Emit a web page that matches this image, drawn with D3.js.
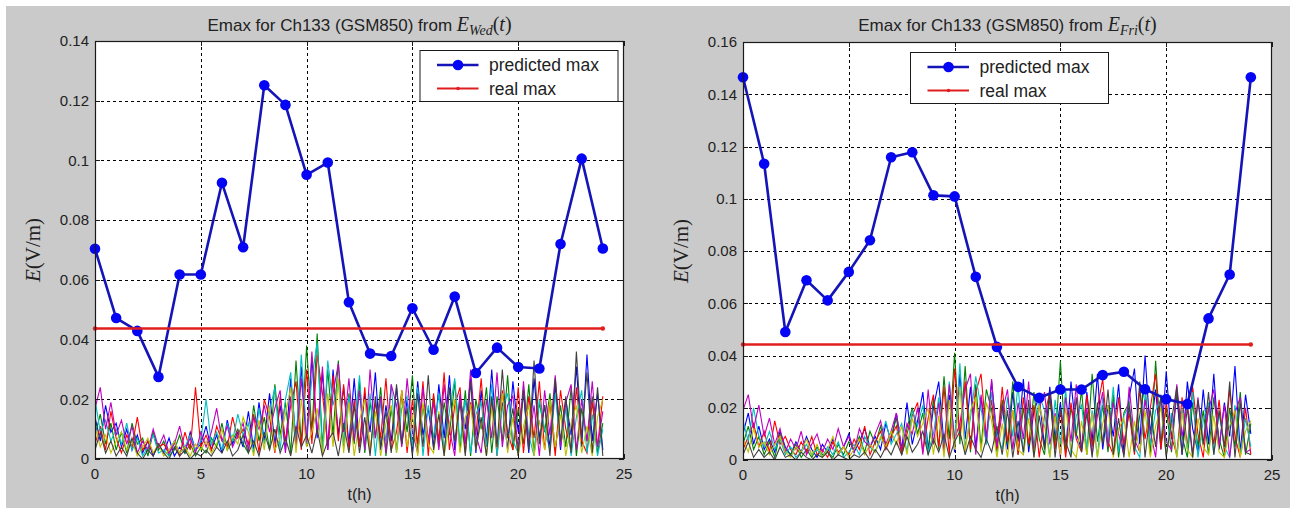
<!DOCTYPE html>
<html>
<head>
<meta charset="utf-8">
<script src="https://cdn.jsdelivr.net/npm/d3@7"></script>
<style>
  html, body { margin: 0; padding: 0; background: #ffffff; }
  svg { display: block; }
</style>
</head>
<body>
<svg id="fig" width="1290" height="508"></svg>
<script>
// ---------------------------------------------------------------
// Data
// ---------------------------------------------------------------
const hours = [0,1,2,3,4,5,6,7,8,9,10,11,12,13,14,15,16,17,18,19,20,21,22,23,24];

// predicted hourly maximum (V/m)
const wedPredicted = [0.0704,0.0472,0.0429,0.0275,0.0618,0.0618,0.0925,0.0709,0.1252,0.1186,0.0952,0.0993,0.0525,
                      0.0353,0.0345,0.0505,0.0366,0.0544,0.0288,0.0373,0.0308,0.0303,0.0720,0.1006,0.0705];
const friPredicted = [0.1465,0.1134,0.0490,0.0688,0.0611,0.0720,0.0841,0.1159,0.1178,0.1013,0.1009,0.0701,0.0433,
                      0.0280,0.0238,0.0270,0.0270,0.0325,0.0338,0.0271,0.0233,0.0214,0.0542,0.0710,0.1465];

// measured maximum (V/m), drawn as a flat line over the day
const wedReal = 0.0437;
const friReal = 0.0442;
const realSpan = [0, 24];

// tick values
const xTicks = [0,5,10,15,20,25];
const yTicksWed = [0,0.02,0.04,0.06,0.08,0.1,0.12,0.14];
const yTicksFri = [0,0.02,0.04,0.06,0.08,0.1,0.12,0.14,0.16];

// measured field traces, one sample every 15 minutes, in mV/m
const sampleStepHours = 0.25;
const traceColors = ["#0000ff","#008000","#ff0000","#00bfbf","#bf00bf","#bfbf00","#404040"];

const wedTraceBlue = [14,6,18,9,12, 4,10,3,8, 2,6,1,5, 2,7,1,4,2,9,3,5, 11,3,8,2,13,5,9,4, 16,3,19,6,
  22,5,18,3, 27,6,31,4, 34,7,29,3,
  30,8,24,5, 27,4,22,9,29,3,18,6, 24,5,20,2,26,8,17,4, 25,7,28,3,21,10,27,2, 23,6,30,4,19,3,26,9,
  22,2,27,7,18,4,25,3, 20,8,31,4,35,6,22,3];
const wedTraceGreen = [8,15,5,12,3, 9,2,12,5, 7,1,9,3, 6,1,3,8,2,5,1,4, 2,7,4,12,3,6,10,5, 2,18,6,14,
  3,25,8,19, 2,33,5,38, 9,42,4,30,
  8,33,4,22, 5,26,2,19,7,24,1,17, 3,22,9,28,2,18,5,21, 4,19,8,26,3,23,1,20, 10,24,2,21,6,28,3,17,
  5,25,2,19,9,22,3,18, 4,24,1,17,6,21,2,12];
const wedTraceRed = [5,11,3,16,7, 2,8,4,14, 3,6,2,4, 5,2,6,1,9,3,24,4, 8,3,11,6,4,14,7,10, 5,15,2,20,
  14,2,21,6, 18,26,3,30, 5,35,22,4,
  28,6,25,3, 20,4,24,2,19,7,27,3, 9,23,2,20,5,26,1,22, 6,29,3,18,24,2,19,8, 27,4,20,1,23,9,3,24,
  2,21,7,26,3,19,1,23, 10,3,24,6,2,19,4,21];
const wedTraceCyan = [20,9,13,6,10, 5,12,3,7, 1,4,8,2, 3,1,6,2,4,8,3,6, 20,5,9,3,12,6,15,8, 12,2,17,5,
  16,24,3,20, 29,5,35,8, 27,39,2,33,
  18,26,5,21, 9,28,3,22,1,19,6,25, 2,17,21,4,24,1,18,7, 22,3,16,27,5,20,2,15, 19,4,25,1,17,22,6,2,
  24,8,1,20,10,3,22,4, 17,1,14,23,2,15,1,10];
const wedTraceMagenta = [17,24,10,19,8, 13,5,11,2, 6,3,10,4, 8,2,5,11,3,7,2,9, 4,9,17,6,11,4,8,12, 3,14,10,18,
  9,17,23,2, 21,4,27,6, 36,8,31,3,
  22,32,9,27, 6,23,3,30,7,21,2,25, 18,4,27,9,2,24,6,19, 3,25,10,1,22,5,30,8, 2,20,7,29,4,18,21,3,
  26,5,18,1,23,8,28,4, 19,25,3,20,6,26,4,16];
const wedTraceOlive = [11,4,8,2,6, 9,3,6,1, 4,7,2,5, 1,3,6,2,4,1,5,3, 6,2,5,10,3,8,5,14, 9,1,13,3,
  18,3,7,15, 24,2,20,4, 9,17,1,22,
  4,27,2,19, 1,13,20,3,16,1,12,18, 2,23,4,15,1,19,5,2, 16,1,12,20,2,14,18,3, 13,1,17,4,22,2,14,1,
  11,18,1,13,3,20,4,15, 1,12,18,2,11,1,14,20];
const wedTraceGrey = [3,9,2,6,1, 4,1,7,2, 0,3,1,5, 2,0,4,1,3,0,2,1, 3,1,4,2,6,1,3,8, 2,6,1,9,
  3,10,2,7, 1,11,4,8, 2,10,1,6,
  9,1,12,2, 18,2,14,1,21,4,16,2, 25,5,17,1,22,4,28,3, 15,1,24,6,19,1,26,3, 14,1,21,4,30,7,17,1,
  23,3,33,5,18,1,27,6, 21,2,36,7,29,2,24,1];

const friTraceBlue = [10,18,6,13,4, 8,3,11,5, 2,7,3,9, 4,1,6,3,8,2,5,10, 3,7,12,5,9,4,14,7, 18,4,22,6,
  15,26,4,20, 30,6,25,3, 33,8,28,5,
  24,6,30,9, 21,4,26,7,31,3,19,24, 5,28,8,22,3,30,10,4, 26,7,33,4,21,9,29,3, 24,35,6,40,10,27,4,34,
  8,25,2,30,12,3,27,6, 33,4,22,9,36,3,25,10];
const friTraceGreen = [6,13,4,9,2, 7,1,10,4, 2,6,1,4, 1,5,2,3,1,6,2,7, 4,9,3,11,6,13,5,9, 16,3,12,20,
  10,18,2,24, 4,32,8,41, 6,36,3,29,
  5,27,19,3, 23,6,30,2,20,5,26,8, 2,24,6,38,3,20,9,27, 2,33,7,21,3,25,1,18, 22,4,17,29,2,38,6,20,
  3,26,9,1,22,5,19,2, 24,8,1,20,5,26,2,14];
const friTraceRed = [4,9,14,5,11, 3,15,6,9, 4,2,7,3, 9,2,4,1,7,3,5,2, 8,4,13,2,7,11,4,9, 13,2,10,17,
  22,3,16,25, 5,28,2,35, 9,30,4,26,
  33,9,23,4, 28,7,19,2,24,6,21,1, 17,26,4,19,1,22,8,3, 25,5,20,31,7,2,24,6, 18,2,27,8,20,33,4,22,
  9,2,24,5,28,10,1,21, 6,23,3,27,9,1,20,2];
const friTraceCyan = [15,7,20,9,5, 11,4,8,2, 5,1,3,6, 2,4,1,5,2,7,1,3, 6,2,9,5,3,8,15,6, 10,14,3,19,
  13,21,3,10, 24,4,30,7, 37,5,16,32,
  20,6,26,10, 4,24,9,29,2,20,5,25, 19,1,23,6,27,2,17,21, 4,19,1,24,8,28,3,17, 21,5,1,25,6,19,23,2,
  18,1,20,4,26,1,15,22, 2,18,5,1,21,2,16,5];
const friTraceMagenta = [19,25,12,21,9, 16,6,12,3, 8,4,11,2, 6,10,3,8,4,12,5,9, 3,12,7,5,10,15,6,11, 18,4,14,10,
  20,2,27,6, 22,3,29,8, 14,27,33,2,
  25,8,31,5, 18,27,4,22,8,30,3,20, 26,6,18,1,24,7,29,4, 20,2,17,26,5,22,10,2, 28,8,3,23,11,1,25,7,
  4,29,9,22,2,24,6,19, 27,5,21,1,18,24,3,4];
const friTraceOlive = [8,3,12,5,7, 2,6,9,3, 1,5,3,8, 2,6,1,4,9,2,5,1, 4,8,2,6,3,9,5,11, 6,13,2,16,
  9,14,20,2, 17,1,23,4, 28,3,19,24,
  3,22,15,1, 14,1,19,4,2,16,1,21, 13,1,17,2,20,4,1,15, 2,18,1,14,21,1,12,16, 1,15,3,19,1,13,20,2,
  14,1,18,4,1,16,5,2, 17,3,1,13,19,1,11,15];
const friTraceGrey = [2,7,1,4,1, 3,0,5,1, 2,0,3,1, 0,2,1,3,0,2,1,0, 2,1,3,0,4,1,5,2, 7,2,9,3,
  6,11,2,8, 3,10,1,7, 11,2,9,4,
  1,8,3,13, 2,19,1,15,3,23,1,17, 4,26,1,20,7,1,24,3, 18,1,22,6,27,2,16,1, 21,3,30,1,19,5,25,1,
  15,28,2,20,1,23,6,26, 2,19,5,30,1,22,3,2];

const wedTraces = [wedTraceBlue, wedTraceGreen, wedTraceRed, wedTraceCyan, wedTraceMagenta, wedTraceOlive, wedTraceGrey];
const friTraces = [friTraceBlue, friTraceGreen, friTraceRed, friTraceCyan, friTraceMagenta, friTraceOlive, friTraceGrey];

// ---------------------------------------------------------------
// Layout and style
// ---------------------------------------------------------------
const SANS = "'Liberation Sans', Arial, Helvetica, sans-serif";
const SERIF = "'Liberation Serif', 'Times New Roman', serif";
const FIG_BG = "#cacaca";
const PRED_LINE = "#1414b8";
const PRED_MARK = "#0505f5";
const REAL_COLOR = "#e01e1e";

const panels = [
  { left: 95,  right: 624,  top: 41, bottom: 459, yMax: 0.14, yTicks: yTicksWed,
    sub: "Wed", predicted: wedPredicted, real: wedReal, traces: wedTraces,
    legend: { x: 419.5, y: 50, w: 198, h: 51 } },
  { left: 743, right: 1272, top: 42, bottom: 460, yMax: 0.16, yTicks: yTicksFri,
    sub: "Fri", predicted: friPredicted, real: friReal, traces: friTraces,
    legend: { x: 910, y: 52, w: 198, h: 51 } }
];

const svg = d3.select("#fig");

// figure background, with the thin white margin along the top and left
svg.append("rect").attr("width", 1290).attr("height", 508).attr("fill", "#ffffff");
svg.append("rect").attr("x", 6).attr("y", 6).attr("width", 1284).attr("height", 502).attr("fill", FIG_BG);

const fmtY = v => v === 0 ? "0" : String(+v.toFixed(2));

panels.forEach((p, pi) => {
  const g = svg.append("g");
  const x = d3.scaleLinear().domain([0, 25]).range([p.left, p.right]);
  const y = d3.scaleLinear().domain([0, p.yMax]).range([p.bottom, p.top]);
  const px = v => Math.round(v) + 0.5;

  // plotting area
  g.append("rect")
    .attr("x", p.left).attr("y", p.top)
    .attr("width", p.right - p.left).attr("height", p.bottom - p.top)
    .attr("fill", "#ffffff");

  // dashed grid
  const grid = g.append("g").attr("stroke", "#000").attr("stroke-width", 1).attr("stroke-dasharray", "3,3");
  grid.selectAll("line.gx").data(xTicks.filter(d => d > 0 && d < 25)).join("line")
    .attr("class", "gx")
    .attr("x1", d => px(x(d))).attr("x2", d => px(x(d)))
    .attr("y1", p.top).attr("y2", p.bottom);
  grid.selectAll("line.gy").data(p.yTicks.filter(d => d > 0 && d < p.yMax - 1e-9)).join("line")
    .attr("class", "gy")
    .attr("x1", p.left).attr("x2", p.right)
    .attr("y1", d => px(y(d))).attr("y2", d => px(y(d)));

  // measured traces
  const clipId = "clip" + pi;
  svg.append("clipPath").attr("id", clipId).append("rect")
    .attr("x", p.left).attr("y", p.top).attr("width", p.right - p.left).attr("height", p.bottom - p.top);
  const traceLine = d3.line()
    .x((d, i) => x(i * sampleStepHours))
    .y(d => y(d / 1000));
  g.append("g").attr("clip-path", `url(#${clipId})`)
    .selectAll("path").data(p.traces).join("path")
    .attr("d", traceLine)
    .attr("fill", "none")
    .attr("stroke", (d, i) => traceColors[i % traceColors.length])
    .attr("stroke-width", 1.1)
    .attr("stroke-linejoin", "miter");

  // predicted maximum
  const predLine = d3.line().x((d, i) => x(hours[i])).y(d => y(d));
  g.append("path").datum(p.predicted)
    .attr("d", predLine)
    .attr("fill", "none").attr("stroke", PRED_LINE).attr("stroke-width", 2.6)
    .attr("stroke-linejoin", "round");
  g.append("g").selectAll("circle").data(p.predicted).join("circle")
    .attr("cx", (d, i) => x(hours[i])).attr("cy", d => y(d))
    .attr("r", 5.3).attr("fill", PRED_MARK);

  // real maximum
  g.append("line")
    .attr("x1", x(realSpan[0])).attr("x2", x(realSpan[1]))
    .attr("y1", y(p.real)).attr("y2", y(p.real))
    .attr("stroke", REAL_COLOR).attr("stroke-width", 2.4);
  g.append("g").selectAll("circle").data(realSpan).join("circle")
    .attr("cx", d => x(d)).attr("cy", y(p.real)).attr("r", 2.2).attr("fill", REAL_COLOR);

  // axes box and inward ticks
  g.append("rect")
    .attr("x", p.left + 0.5).attr("y", p.top + 0.5)
    .attr("width", p.right - p.left - 1).attr("height", p.bottom - p.top - 1)
    .attr("fill", "none").attr("stroke", "#1a1a1a").attr("stroke-width", 1.2);
  const tk = g.append("g").attr("stroke", "#1a1a1a").attr("stroke-width", 1);
  xTicks.forEach(d => {
    tk.append("line").attr("x1", px(x(d))).attr("x2", px(x(d))).attr("y1", p.bottom).attr("y2", p.bottom - 5);
    tk.append("line").attr("x1", px(x(d))).attr("x2", px(x(d))).attr("y1", p.top).attr("y2", p.top + 5);
  });
  p.yTicks.forEach(d => {
    tk.append("line").attr("x1", p.left).attr("x2", p.left + 5).attr("y1", px(y(d))).attr("y2", px(y(d)));
    tk.append("line").attr("x1", p.right).attr("x2", p.right - 5).attr("y1", px(y(d))).attr("y2", px(y(d)));
  });

  // tick labels
  g.append("g").selectAll("text").data(p.yTicks).join("text")
    .attr("x", p.left - 6).attr("y", d => y(d))
    .attr("dy", "0.35em")
    .attr("text-anchor", "end")
    .attr("font-family", SANS).attr("font-size", 15).attr("fill", "#222")
    .text(fmtY);
  g.append("g").selectAll("text").data(xTicks).join("text")
    .attr("x", d => x(d)).attr("y", p.bottom + 15)
    .attr("dy", "0.35em")
    .attr("text-anchor", "middle")
    .attr("font-family", SANS).attr("font-size", 15).attr("fill", "#222")
    .text(d => d);

  // axis labels
  g.append("text")
    .attr("x", (p.left + p.right) / 2).attr("y", p.bottom + 35)
    .attr("dy", "0.35em").attr("text-anchor", "middle")
    .attr("font-family", SANS).attr("font-size", 16).attr("fill", "#222")
    .text("t(h)");
  const yl = g.append("text")
    .attr("transform", `translate(${p.left - 62},${(p.top + p.bottom) / 2}) rotate(-90)`)
    .attr("dy", "0.35em").attr("text-anchor", "middle")
    .attr("font-family", SERIF).attr("font-size", 21).attr("fill", "#222");
  yl.append("tspan").attr("font-style", "italic").text("E");
  yl.append("tspan").text("(V/m)");

  // title
  const tt = g.append("text")
    .attr("x", (p.left + p.right) / 2).attr("y", 31)
    .attr("text-anchor", "middle")
    .attr("font-family", SANS).attr("font-size", 17).attr("fill", "#222");
  tt.append("tspan").text("Emax for Ch133 (GSM850) from ");
  tt.append("tspan").attr("font-family", SERIF).attr("font-style", "italic").attr("font-size", 20).text("E");
  tt.append("tspan").attr("font-family", SERIF).attr("font-style", "italic").attr("font-size", 14)
    .attr("dy", 4).text(p.sub);
  tt.append("tspan").attr("font-family", SERIF).attr("font-size", 20).attr("dy", -4).text("(");
  tt.append("tspan").attr("font-family", SERIF).attr("font-style", "italic").attr("font-size", 20).text("t");
  tt.append("tspan").attr("font-family", SERIF).attr("font-size", 20).text(")");

  // legend
  const L = p.legend;
  const lg = g.append("g");
  lg.append("rect").attr("x", L.x + 0.5).attr("y", L.y + 0.5).attr("width", L.w).attr("height", L.h)
    .attr("fill", "#ffffff").attr("stroke", "#1a1a1a").attr("stroke-width", 1);
  const rows = [
    { label: "predicted max", color: PRED_LINE, mark: PRED_MARK, r: 5.3, w: 2.4, dy: 15 },
    { label: "real max", color: REAL_COLOR, mark: REAL_COLOR, r: 1.8, w: 2.2, dy: 38.5 }
  ];
  rows.forEach(row => {
    const ry = L.y + row.dy;
    lg.append("line").attr("x1", L.x + 17.5).attr("x2", L.x + 59).attr("y1", ry).attr("y2", ry)
      .attr("stroke", row.color).attr("stroke-width", row.w);
    lg.append("circle").attr("cx", L.x + 38.5).attr("cy", ry).attr("r", row.r).attr("fill", row.mark);
    lg.append("text").attr("x", L.x + 69.5).attr("y", ry).attr("dy", "0.35em")
      .attr("font-family", SANS).attr("font-size", 17.5).attr("fill", "#222")
      .text(row.label);
  });
});
</script>
</body>
</html>
